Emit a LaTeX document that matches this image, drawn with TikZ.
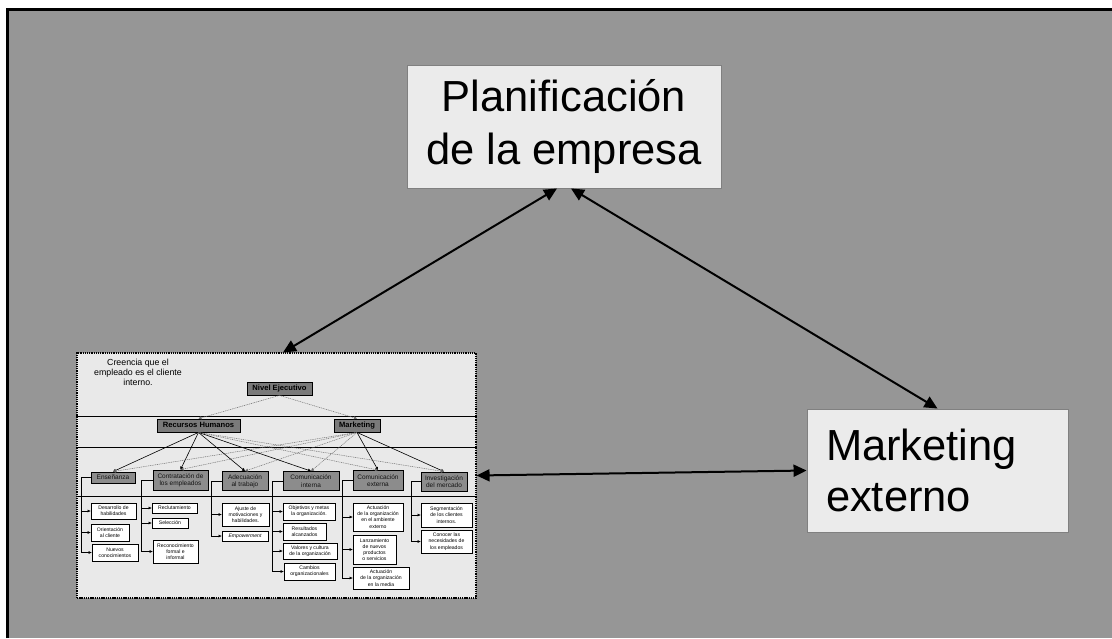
\documentclass[tikz,border=0pt]{standalone}
\usepackage{fontspec}
\setmainfont{Liberation Sans}
\usetikzlibrary{arrows.meta}
\definecolor{bggray}{RGB}{150,150,150}
\definecolor{boxfill}{RGB}{235,235,235}
\definecolor{boxedge}{RGB}{128,128,128}
\definecolor{insetfill}{RGB}{233,233,233}
\definecolor{lvltwofill}{RGB}{122,122,122}
\definecolor{lvlthreefill}{RGB}{140,140,140}
\definecolor{textgray}{RGB}{20,20,20}
\definecolor{dotgray}{RGB}{110,110,110}
\tikzset{
  sz/.style n args={2}{minimum width=#1pt, minimum height=#2pt},
  bigbox/.style={draw=boxedge, fill=boxfill, line width=0.9pt, inner sep=0pt},
  insetbox/.style={draw=black, fill=insetfill, line width=1.1pt, dash pattern=on 1.3pt off 0.9pt, inner sep=0pt},
  lvltwo/.style={draw=black, fill=lvltwofill, line width=0.8pt, inner sep=0pt, text height=5.6pt, text depth=1.4pt, font=\bfseries\fontsize{7.6}{8}\selectfont},
  lvlthree/.style={draw=black, fill=lvlthreefill, line width=0.8pt, inner sep=0pt, align=center, text=textgray, font=\fontsize{6.5}{7.3}\selectfont},
  leaf/.style={draw=black, fill=white, line width=0.8pt, inner sep=0pt, align=center, font=\fontsize{5.1}{6.2}\selectfont},
  bigarrow/.style={line width=2pt, {Triangle[length=13pt,width=12pt]}-{Triangle[length=13pt,width=12pt]}},
  solidlink/.style={line width=0.6pt, -{Triangle[length=3pt,width=3pt]}},
  dotlink/.style={line width=0.5pt, draw=dotgray, dash pattern=on 1pt off 0.8pt, -{Triangle[length=3pt,width=3pt]}},
  branch/.style={line width=0.6pt, -{Triangle[length=3pt,width=2.6pt]}},
  sepline/.style={line width=0.9pt},
}
\begin{document}
\begin{tikzpicture}[x=1pt,y=-1pt]
\useasboundingbox (0,0) rectangle (1112,638);
\fill[white] (0,0) rectangle (1112,638);
\fill[bggray] (8,10) rectangle (1112,638);
\draw[line width=3pt] (7.5,638) -- (7.5,9.5) -- (1112,9.5);

% main boxes
\node[bigbox, sz={314}{123}, align=center, font=\fontsize{43.5}{53}\selectfont] (plan) at (564,126.5) {Planificación\\de la empresa};
\node[bigbox, sz={261}{123}, inner xsep=19pt, text width=223pt, align=left, font=\fontsize{43.5}{51}\selectfont] (mk) at (937.5,470.5) {Marketing\\externo};

% inset
\node[insetbox, sz={399}{245}] (inset) at (276.5,475.5) {};
\draw[sepline] (inset.west |- 0,416) -- (inset.east |- 0,416);
\draw[sepline] (inset.west |- 0,447) -- (inset.east |- 0,447);
\draw[sepline] (inset.west |- 0,496.5) -- (inset.east |- 0,496.5);

\node[align=center, font=\fontsize{8.8}{10}\selectfont] (creencia) at (138,372.5) {Creencia que el\\empleado es el cliente\\interno.};

% level 2
\node[lvltwo, sz={65}{13}] (nivel) at (279.5,388.5) {Nivel Ejecutivo};
\node[lvltwo, sz={83}{13}] (rh) at (198.5,425.5) {Recursos Humanos};
\node[lvltwo, sz={46}{13}] (mkt) at (357,425.5) {Marketing};

% level 3
\node[lvlthree, sz={44}{11}] (ens) at (113,477.5) {Enseñanza};
\node[lvlthree, sz={55}{20}] (con) at (180.5,480) {Contratación de\\los empleados};
\node[lvlthree, sz={46}{19}] (ade) at (245,481) {Adecuación\\al trabajo};
\node[lvlthree, sz={56}{19}] (cin) at (311,481) {Comunicación\\interna};
\node[lvlthree, sz={50}{20}] (cex) at (378,480.5) {Comunicación\\externa};
\node[lvlthree, sz={46}{19}] (inv) at (444,481.5) {Investigación\\del mercado};

% level 4
\node[leaf, sz={45}{16}] (d1) at (113.5,511) {Desarrollo de\\habilidades};
\node[leaf, sz={38}{17}] (d2) at (110,532.5) {Orientación\\al cliente};
\node[leaf, sz={46}{17}] (d3) at (115,552.5) {Nuevos\\conocimientos};

\node[leaf, sz={45}{10}] (c1) at (174.5,508) {Reclutamiento};
\node[leaf, sz={36}{10}] (c2) at (170,523) {Selección};
\node[leaf, sz={45}{23}] (c3) at (175.5,551.5) {Reconocimiento\\formal e\\informal};

\node[leaf, sz={47}{23}] (a1) at (245.5,514.5) {Ajuste de\\motivaciones y\\habilidades.};
\node[leaf, sz={46}{10}, font=\itshape\fontsize{5.1}{6.2}\selectfont] (a2) at (245,536) {Empowerment};

\node[leaf, sz={52}{17}] (i1) at (309,511.5) {Objetivos y metas\\la organización.};
\node[leaf, sz={43}{17}] (i2) at (304.5,531.5) {Resultados\\alcanzados};
\node[leaf, sz={54}{16}] (i3) at (310,551) {Valores y cultura\\de la organización};
\node[leaf, sz={51}{17}] (i4) at (309.5,571.5) {Cambios\\organizacionales};

\node[leaf, sz={50}{28}] (e1) at (378,517) {Actuación\\de la organización\\en el ambiente\\externo};
\node[leaf, sz={43}{29}] (e2) at (374.5,549.5) {Lanzamiento\\de nuevos\\productos\\o servicios};
\node[leaf, sz={56}{22}] (e3) at (381,578) {Actuación\\de la organización\\en la media};

\node[leaf, sz={51}{24}] (v1) at (446.5,515) {Segmentación\\de los clientes\\internos.};
\node[leaf, sz={51}{23}] (v2) at (446.5,541.5) {Conocer las\\necesidades de\\los empleados};

% hierarchy links
\draw[dotlink] (nivel.south) -- (rh.north);
\draw[dotlink] (nivel.south) -- (mkt.north);
\foreach \t in {ens,con,ade,cin} {
  \draw[solidlink] (rh.south) -- (\t.north);
  \draw[dotlink] (mkt.south) -- (\t.north);
}
\foreach \t in {cex,inv} {
  \draw[solidlink] (mkt.south) -- (\t.north);
  \draw[dotlink] (rh.south) -- (\t.north);
}

% branches
\foreach \c in {d1,d2,d3} \draw[branch] (ens.west) -- ++(-9,0) |- (\c.west);
\foreach \c in {c1,c2,c3} \draw[branch] (con.west) -- ++(-11,0) |- (\c.west);
\foreach \c in {a1,a2} \draw[branch] (ade.west) -- ++(-10,0) |- (\c.west);
\foreach \c in {i1,i2,i3,i4} \draw[branch] (cin.west) -- ++(-10,0) |- (\c.west);
\foreach \c in {e1,e2,e3} \draw[branch] (cex.west) -- ++(-10,0) |- (\c.west);
\foreach \c in {v1,v2} \draw[branch] (inv.west) -- ++(-9,0) |- (\c.west);

% big arrows
\draw[bigarrow] ([xshift=6.5pt]inset.north) -- ([xshift=-7pt]plan.south);
\draw[bigarrow] ([xshift=7pt]plan.south) -- (mk.north);
\draw[bigarrow] (inset.east) -- (mk.west);
\end{tikzpicture}
\end{document}
